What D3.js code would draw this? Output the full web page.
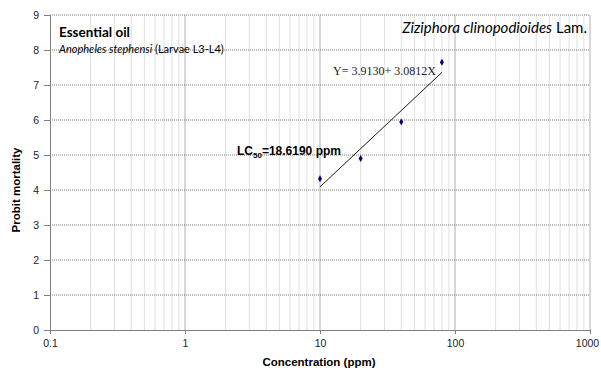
<!DOCTYPE html>
<html>
<head>
<meta charset="utf-8">
<script src="https://cdn.jsdelivr.net/npm/d3@7"></script>
<style>
  body { margin: 0; background: #fff; }
  svg text { font-family: "Liberation Sans", Arial, sans-serif; }
</style>
</head>
<body>
<div id="chart"></div>
<script>
// observed points: concentration (ppm) vs probit mortality
const concentrations = [10, 20, 40, 80];
const probits = [4.32, 4.9, 5.94, 7.65];
// fitted line end points as drawn
const fitConc = [10, 80];
const fitProbit = [4.09, 7.36];
const yTicks = [0, 1, 2, 3, 4, 5, 6, 7, 8, 9];
const xTicks = [0.1, 1, 10, 100, 1000];

const W = 601, H = 370;
const margin = {top: 15, right: 11, bottom: 40, left: 50};
const width = W - margin.left - margin.right;
const height = H - margin.top - margin.bottom;

const svg = d3.select("#chart").append("svg")
    .attr("width", W).attr("height", H);
const g = svg.append("g")
    .attr("transform", `translate(${margin.left},${margin.top})`);

const x = d3.scaleLog().domain([0.1, 1000]).range([0, width]);
const y = d3.scaleLinear().domain([0, 9]).range([height, 0]);

// vertical grid (minor + major)
const minor = [];
for (let dec = 0.1; dec < 1000; dec *= 10) {
    for (let k = 2; k <= 9; k++) minor.push(dec * k);
}
g.selectAll(".vminor").data(minor).enter().append("line")
    .attr("x1", d => x(d)).attr("x2", d => x(d))
    .attr("y1", 0).attr("y2", height)
    .attr("stroke", "#e0e0e0").attr("stroke-width", 1);
g.selectAll(".vmajor").data([1, 10, 100, 1000]).enter().append("line")
    .attr("x1", d => x(d)).attr("x2", d => x(d))
    .attr("y1", 0).attr("y2", height)
    .attr("stroke", "#b0b0b0").attr("stroke-width", 1);

// horizontal dotted grid
g.selectAll(".hgrid").data(yTicks.slice(1)).enter().append("line")
    .attr("x1", 0).attr("x2", width)
    .attr("y1", d => y(d)).attr("y2", d => y(d))
    .attr("stroke", "#7a7a7a").attr("stroke-width", 1)
    .attr("stroke-dasharray", "1,1");

// axes
const yAxis = g.append("g")
    .call(d3.axisLeft(y).tickValues(yTicks).tickSize(6).tickPadding(5).tickFormat(d3.format("d")));
const xAxis = g.append("g")
    .attr("transform", `translate(0,${height})`)
    .call(d3.axisBottom(x).tickValues(xTicks).tickSize(4).tickPadding(6).tickFormat(d => d3.format("~g")(d)));
[yAxis, xAxis].forEach(a => {
    a.select(".domain").attr("stroke", "#808080");
    a.selectAll(".tick line").attr("stroke", "#808080");
    a.selectAll(".tick text").attr("fill", "#222").attr("font-size", 10.5)
        .style("font-family", "'Liberation Sans', Arial, sans-serif");
});
// keep the last label inside the frame
xAxis.selectAll(".tick text").filter(d => d === 1000).attr("dx", -3);

// fit line
g.append("line")
    .attr("x1", x(fitConc[0])).attr("y1", y(fitProbit[0]))
    .attr("x2", x(fitConc[1])).attr("y2", y(fitProbit[1]))
    .attr("stroke", "#000").attr("stroke-width", 0.9);

// points (diamonds)
g.selectAll(".pt").data(concentrations).enter().append("path")
    .attr("d", d3.symbol().type(d3.symbolDiamond).size(14))
    .attr("transform", (d, i) => `translate(${x(d)},${y(probits[i])})`)
    .attr("fill", "#000080");

// annotations
svg.append("text").attr("x", 59).attr("y", 37)
    .style("font-family", "Lato, 'Open Sans', sans-serif")
    .attr("font-size", 13.5).attr("font-weight", "bold").attr("fill", "#000")
    .text("Essential oil");
const sub = svg.append("text").attr("x", 59).attr("y", 53)
    .style("font-family", "Lato, 'Open Sans', sans-serif")
    .attr("font-size", 11).attr("fill", "#000");
sub.append("tspan").attr("font-style", "italic").text("Anopheles stephensi");
sub.append("tspan").text(" (Larvae L3-L4)");

const sp = svg.append("text").attr("x", 587).attr("y", 33).attr("text-anchor", "end")
    .style("font-family", "Lato, 'Open Sans', sans-serif")
    .attr("font-size", 15).attr("fill", "#000");
sp.append("tspan").attr("font-style", "italic").text("Ziziphora clinopodioides");
sp.append("tspan").text(" Lam.");

svg.append("text").attr("x", 333).attr("y", 75)
    .style("font-family", "'Liberation Serif', 'Times New Roman', serif")
    .attr("font-size", 12).attr("fill", "#222")
    .text("Y= 3.9130+ 3.0812X");

const lc = svg.append("text").attr("x", 237).attr("y", 155)
    .attr("font-size", 12).attr("font-weight", "bold").attr("fill", "#000");
lc.append("tspan").text("LC");
lc.append("tspan").attr("font-size", 8).attr("dy", 3).text("50");
lc.append("tspan").attr("dy", -3).text("=18.6190 ppm");

// axis titles
svg.append("text")
    .attr("x", margin.left + width / 2 - 1).attr("y", 366)
    .attr("text-anchor", "middle").attr("font-size", 11.5).attr("font-weight", "bold")
    .text("Concentration (ppm)");
svg.append("text")
    .attr("transform", "translate(20,190) rotate(-90)")
    .attr("text-anchor", "middle").attr("font-size", 11.5).attr("font-weight", "bold")
    .text("Probit mortality");
</script>
</body>
</html>
